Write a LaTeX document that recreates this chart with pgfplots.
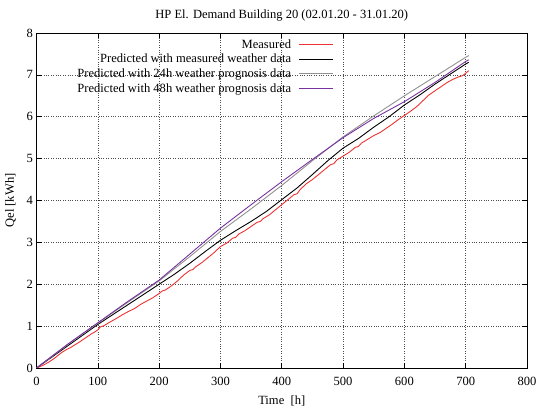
\documentclass[border=0pt]{standalone}
\usepackage{pgfplots}
\pgfplotsset{compat=1.18}
\usepackage{fontspec}
\setmainfont{Liberation Serif}
\definecolor{mred}{RGB}{238,50,50}
\definecolor{mgray}{RGB}{145,145,145}
\definecolor{mpurple}{RGB}{120,50,160}
\begin{document}
\begin{tikzpicture}
\useasboundingbox (-36.5bp,-44bp) rectangle (513.5bp,368bp);
\begin{axis}[
  scale only axis,
  width=490.5bp, height=335bp,
  xmin=0, xmax=800, ymin=0, ymax=8,
  xtick={0,100,...,800}, ytick={0,1,...,8},
  /pgf/number format/assume math mode=true,
  tick label style={font=\fontsize{12.6}{14}\selectfont},
  xticklabel style={yshift=-6bp},
  label style={font=\fontsize{12.6}{14}\selectfont},
  title style={font=\fontsize{12.6}{14}\selectfont, yshift=2bp},
  title={HP El. Demand Building 20 (02.01.20 - 31.01.20)},
  xlabel={Time\ \ [h]}, ylabel={Qel [kWh]},
  xlabel style={yshift=-3bp},
  ylabel style={yshift=4bp},
  grid=major,
  major grid style={black!70, dotted, line width=0.6pt},
  tick align=inside, major tick length=5bp,
  axis line style={line width=0.9pt},
  every tick/.style={black, line width=0.6pt},
  legend cell align=right,
  legend plot pos=right,
  legend image code/.code={\path (0bp,0bp); \draw[#1] (5bp,0bp) -- (39bp,0bp);},
  legend style={draw=none, fill=none, at={(0.607,0.99)}, anchor=north east,
    font=\fontsize{12.6}{14}\selectfont, row sep=0.4bp, inner sep=1bp},
  every axis plot/.append style={line width=0.9pt},
]
\addplot[mred] coordinates {
(0,0) (10,0.06) (20,0.14) (26,0.2) (30,0.24) (40,0.36) (50,0.45) (56,0.49) (60,0.53) (70,0.62)
(80,0.72) (90,0.82) (95,0.86) (100,0.91) (104,0.98) (110,1.01) (120,1.10) (130,1.18) (140,1.27)
(150,1.35) (160,1.42) (170,1.52) (180,1.60) (190,1.68) (200,1.78) (205,1.84) (210,1.86)
(220,1.96) (230,2.08) (240,2.22) (250,2.33) (255,2.35) (260,2.42) (270,2.52) (280,2.64)
(290,2.76) (300,2.90) (310,2.98) (320,3.10) (325,3.12) (330,3.20) (340,3.28) (350,3.38)
(360,3.48) (365,3.50) (370,3.57) (380,3.66) (390,3.78) (400,3.90) (410,4.02) (420,4.14)
(425,4.16) (430,4.26) (440,4.40) (450,4.50) (460,4.62) (470,4.74) (480,4.86) (485,4.88)
(490,4.97) (500,5.06) (510,5.15) (520,5.27) (525,5.29) (530,5.37) (540,5.46) (550,5.55)
(560,5.62) (570,5.72) (580,5.82) (590,5.93) (600,6.03) (610,6.13) (620,6.24) (630,6.38)
(640,6.52) (650,6.62) (660,6.72) (670,6.82) (680,6.90) (690,6.96) (695,6.98) (700,7.04) (705,7.10)
};
\addlegendentry{Measured}
\addplot[black] coordinates {
(0,0) (25,0.26) (50,0.52) (75,0.78) (100,1.04) (125,1.28) (150,1.52) (175,1.76)
(200,2.00) (225,2.24) (250,2.50) (275,2.78) (300,3.05) (325,3.28) (350,3.50) (375,3.74)
(400,4.02) (425,4.30) (450,4.62) (475,4.95) (500,5.25) (525,5.48) (550,5.75) (575,6.00)
(600,6.28) (625,6.52) (650,6.78) (675,7.02) (700,7.26) (705,7.30)
};
\addlegendentry{Predicted with measured weather data}
\addplot[mgray] coordinates {
(0,0) (50,0.55) (100,1.07) (150,1.58) (200,2.08) (250,2.66) (300,3.26) (350,3.80)
(400,4.36) (450,4.95) (500,5.52) (550,6.02) (600,6.50) (650,6.96) (700,7.42) (705,7.46)
};
\addlegendentry{Predicted with 24h weather prognosis data}
\addplot[mpurple] coordinates {
(0,0) (50,0.56) (100,1.08) (150,1.60) (200,2.10) (250,2.72) (300,3.34) (350,3.90)
(400,4.45) (450,4.98) (500,5.50) (550,5.96) (600,6.36) (650,6.82) (700,7.32) (705,7.36)
};
\addlegendentry{Predicted with 48h weather prognosis data}
\end{axis}
\end{tikzpicture}
\end{document}
